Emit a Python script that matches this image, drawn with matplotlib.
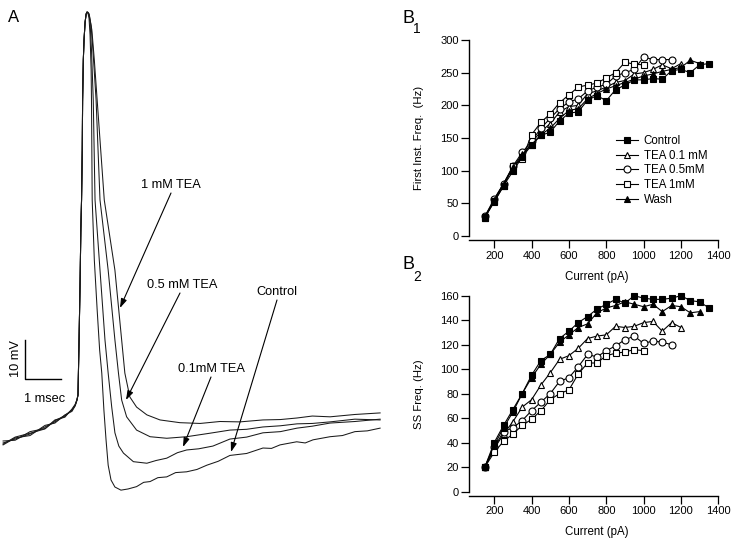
import matplotlib
matplotlib.use('Agg')
import matplotlib.pyplot as plt
from matplotlib.lines import Line2D

plt.rcParams['font.family'] = ['Liberation Sans', 'DejaVu Sans']

# ---------------- Panel A : action potential traces (time in ms, V in mV) ----------
pre_t = [-2.11, -1.77, -1.35, -0.93, -0.65, -0.37, -0.17, -0.08, -0.03, 0.00,
         0.03, 0.06, 0.08, 0.10, 0.12, 0.13, 0.15, 0.17, 0.20, 0.23]
pre_v_control = [-70.5, -69.5, -68.2, -66.4, -65.1, -63.6, -62.1, -60.8, -59.5, -58.2,
                 -44.1, -28.7, -15.9, -8.2, 4.6, 17.4, 27.7, 32.8, 37.4, 39.5]
pre_v_tea01 = [-70.0, -69.8, -67.6, -66.8, -64.6, -63.9, -61.8, -60.6, -59.4, -58.2,
               -44.1, -28.7, -15.9, -8.2, 4.6, 17.4, 27.7, 32.8, 37.4, 39.5]
pre_v_tea05 = [-71.0, -69.2, -68.6, -66.0, -65.4, -63.3, -62.4, -61.0, -59.6, -58.2,
               -44.1, -28.7, -15.9, -8.2, 4.6, 17.4, 27.7, 32.8, 37.4, 39.5]
pre_v_tea1 = [-70.8, -69.0, -68.0, -66.9, -64.8, -63.5, -62.0, -60.9, -59.5, -58.2,
              -44.1, -28.7, -15.9, -8.2, 4.6, 17.4, 27.7, 32.8, 37.4, 39.5]

control_t = [0.25, 0.28, 0.31, 0.34, 0.37, 0.38, 0.40, 0.46, 0.54, 0.61, 0.67, 0.73,
             0.79, 0.85, 0.93, 1.04, 1.21, 1.41, 1.65, 1.85, 2.03, 2.25, 2.50, 2.75, 3.06,
             3.35, 3.63, 3.95, 4.28, 4.75, 5.21, 5.45, 5.69, 6.16, 6.40, 6.62, 7.10,
             7.45, 7.80, 8.15, 8.51]
control_v = [40.0, 39.7, 38.5, 34.1, 25.1, 17.4, -8.2, -23.6, -36.4, -46.7, -52.6, -62.1,
             -69.7, -76.2, -80.0, -81.8, -82.6, -82.3, -81.7, -80.6, -80.4, -79.4, -79.2,
             -78.1, -77.9, -77.3, -76.2, -75.2, -73.7, -73.2, -71.8, -71.9, -71.0, -70.2,
             -70.5, -69.7, -68.9, -68.6, -67.6, -67.4, -66.7]

tea01_t = [0.25, 0.30, 0.34, 0.38, 0.43, 0.48, 0.62, 0.76, 0.85, 0.95, 1.04, 1.15,
           1.28, 1.56, 1.94, 2.20, 2.50, 2.80, 3.06, 3.40, 3.80, 4.28, 4.75, 5.21,
           5.70, 6.17, 6.60, 7.10, 7.80, 8.51]
tea01_v = [40.0, 39.7, 37.4, 30.3, 17.4, -8.2, -26.2, -44.1, -52.6, -61.3, -67.9, -71.3,
           -73.1, -75.3, -75.7, -75.0, -74.4, -73.0, -72.3, -72.0, -71.3, -69.5, -69.0,
           -67.9, -67.6, -66.7, -66.2, -65.4, -65.0, -64.4]

tea05_t = [0.27, 0.31, 0.37, 0.42, 0.51, 0.62, 0.85, 1.04, 1.14, 1.23, 1.37, 1.65,
           2.03, 2.50, 3.06, 3.72, 4.28, 4.75, 5.21, 5.70, 6.17, 6.60, 7.10, 7.80, 8.51]
tea05_v = [40.0, 39.5, 36.4, 30.3, 17.4, -8.2, -26.2, -44.1, -52.6, -59.5, -63.8, -67.2,
           -68.9, -69.3, -68.9, -68.0, -67.2, -67.0, -66.4, -66.1, -65.6, -65.5, -65.1,
           -64.4, -64.6]

tea1_t = [0.27, 0.32, 0.39, 0.46, 0.54, 0.74, 1.04, 1.23, 1.32, 1.46, 1.65, 1.94,
          2.31, 2.87, 3.44, 4.00, 4.56, 5.21, 5.70, 6.17, 6.60, 7.10, 7.80, 8.51]
tea1_v = [40.0, 39.2, 35.4, 27.7, 17.4, -8.2, -26.2, -44.1, -52.6, -58.7, -61.3, -63.3,
          -64.6, -65.3, -65.5, -65.0, -65.1, -64.6, -64.5, -64.1, -63.6, -63.8, -63.2, -62.8]

scalebar_origin = (-1.49, -54.0)
scalebar_ms = 1.0
scalebar_mv = 10.0

# ---------------- Panel B : f-I curves ----------------
current = [150, 200, 250, 300, 350, 400, 450, 500, 550, 600, 650, 700, 750,
           800, 850, 900, 950, 1000, 1050, 1100, 1150, 1200, 1250, 1300, 1350]
series_names = ['Control', 'TEA 0.1 mM', 'TEA 0.5mM', 'TEA 1mM', 'Wash']

b1_control = [29, 52, 77, 99, 121, 139, 154, 159, 176, 188, 190, 208, 215, 207, 224, 231,
              239, 239, 241, 240, 253, 255, 250, 262, 264]
b1_tea01 = [28, 55, 80, 104, 122, 143, 160, 172, 190, 198, 200, 218, 222, 228, 235, 238,
            248, 250, 255, 262, 256, 264]
b1_tea05 = [30, 57, 80, 107, 128, 145, 165, 180, 195, 205, 210, 222, 228, 232, 245, 250,
            255, 274, 270, 270, 270]
b1_tea1 = [28, 53, 76, 107, 118, 155, 174, 187, 204, 216, 228, 231, 234, 242, 250, 266,
           263, 262]
b1_wash = [30, 55, 80, 105, 125, 140, 155, 165, 180, 192, 195, 210, 218, 225, 230, 235,
           240, 245, 248, 252, 255, 258, 269, 264]

b2_control = [20, 40, 54, 67, 80, 95, 107, 112, 125, 131, 138, 143, 149, 153, 157, 154,
              160, 158, 157, 157, 158, 160, 156, 155, 150]
b2_tea01 = [20, 35, 47, 57, 69, 75, 87, 97, 108, 111, 117, 125, 127, 128, 135, 134,
            135, 138, 139, 131, 138, 134]
b2_tea05 = [20, 36, 49, 52, 58, 66, 73, 80, 90, 93, 102, 112, 110, 115, 119, 124,
            127, 121, 123, 122, 120]
b2_tea1 = [20, 32, 41, 47, 54, 59, 66, 75, 80, 83, 96, 105, 105, 111, 113, 114,
           116, 115]
b2_wash = [20, 38, 52, 65, 80, 93, 104, 112, 122, 128, 134, 137, 146, 150, 152, 155,
           153, 151, 153, 147, 152, 151, 146, 147]

# ---------------- figure ----------------
W, H = 749, 541
fig = plt.figure(figsize=(W / 100, H / 100), dpi=100)


def fx(x):
    return x / W


def fy(y):
    return 1 - y / H


# Panel A
axA = fig.add_axes([0, 0, 392 / W, 1])
axA.set_xlim(-2.197, (392 - 78) / 35.5)
axA.set_ylim((168 - 541) / 3.9, 168 / 3.9)
axA.axis('off')
tr_kw = dict(color='#1a1a1a', lw=0.75)
for pv, tt, vv in [(pre_v_control, control_t, control_v), (pre_v_tea01, tea01_t, tea01_v),
                   (pre_v_tea05, tea05_t, tea05_v), (pre_v_tea1, tea1_t, tea1_v)]:
    axA.plot(pre_t + tt, pv + vv, **tr_kw)
t0, v0 = scalebar_origin
axA.plot([t0, t0, t0 + scalebar_ms], [v0 + scalebar_mv, v0, v0], color='black', lw=1.0)

fig.text(fx(8), fy(22), 'A', fontsize=12, ha='left', va='baseline')
lab_kw = dict(fontsize=9.2, ha='center', va='center')
fig.text(fx(171), fy(185), '1 mM TEA', **lab_kw)
fig.text(fx(182), fy(285), '0.5 mM TEA', **lab_kw)
fig.text(fx(277), fy(292), 'Control', **lab_kw)
fig.text(fx(211), fy(369), '0.1mM TEA', **lab_kw)
fig.text(fx(16), fy(359), '10 mV', fontsize=9.2, rotation=90, ha='center', va='center')
fig.text(fx(45), fy(399), '1 msec', **lab_kw)

arrows = [((171, 193), (120, 308)), ((180, 293), (126, 400)),
          ((211, 377), (183, 447)), ((277, 300), (231, 452))]
for (sx, sy), (ex, ey) in arrows:
    fig.add_artist(matplotlib.patches.FancyArrowPatch(
        (fx(sx), fy(sy)), (fx(ex), fy(ey)), transform=fig.transFigure,
        arrowstyle='-|>,head_length=0.55,head_width=0.18', mutation_scale=10,
        color='black', lw=0.8, shrinkA=0, shrinkB=0))

# Panel B styling
styles = [
    dict(marker='s', mfc='black', mec='black', zorder=4),
    dict(marker='^', mfc='white', mec='black', zorder=3),
    dict(marker='o', mfc='white', mec='black', zorder=3),
    dict(marker='s', mfc='white', mec='black', zorder=3),
    dict(marker='^', mfc='black', mec='black', zorder=3.5),
]
common = dict(color='black', lw=0.8, ms=5.0, mew=0.8, clip_on=False)


def style_axis(ax, ymax, ystep):
    ax.set_xlim(65, 1400)
    ax.set_ylim(0, ymax)
    for s in ['top', 'right']:
        ax.spines[s].set_visible(False)
    ax.spines['left'].set_bounds(0, ymax)
    ax.spines['bottom'].set_position(('outward', 3))
    ax.spines['left'].set_linewidth(1.0)
    ax.spines['bottom'].set_linewidth(1.0)
    ax.set_xticks([200, 400, 600, 800, 1000, 1200, 1400])
    ax.set_yticks(list(range(0, ymax + 1, ystep)))
    ax.tick_params(direction='out', length=5.5, width=0.9, labelsize=8, pad=2)
    ax.patch.set_visible(False)


axB1 = fig.add_axes([fx(469), fy(236), (718.3 - 469) / W, (236 - 40) / H])
axB2 = fig.add_axes([fx(469), fy(491.5), (718.3 - 469) / W, (491.5 - 295.7) / H])

for ax, data in [(axB1, [b1_control, b1_tea01, b1_tea05, b1_tea1, b1_wash]),
                 (axB2, [b2_control, b2_tea01, b2_tea05, b2_tea1, b2_wash])]:
    for name, vals, st in zip(series_names, data, styles):
        ax.plot(current[:len(vals)], vals, label=name, **common, **st)

style_axis(axB1, 300, 50)
style_axis(axB2, 160, 20)

handles = [Line2D([], [], color='black', lw=0.8, ms=5.0, mew=0.8,
                  **{k: v for k, v in st.items() if k != 'zorder'}) for st in styles]
axB1.legend(handles, series_names, loc='upper left', bbox_to_anchor=(fx(616), fy(135)),
            bbox_transform=fig.transFigure, frameon=False, fontsize=8.3,
            handlelength=1.9, handletextpad=0.5, labelspacing=0.23,
            borderpad=0, borderaxespad=0)

fig.text(fx(419), fy(138), 'First Inst. Freq.  (Hz)', fontsize=8.2, rotation=90,
         ha='center', va='center')
fig.text(fx(419), fy(394), 'SS Freq. (Hz)', fontsize=8.2, rotation=90,
         ha='center', va='center')
fig.text(fx(597), fy(277), 'Current (pA)', fontsize=8.3, ha='center', va='center')
fig.text(fx(597), fy(532), 'Current (pA)', fontsize=8.3, ha='center', va='center')

fig.text(fx(402), fy(23), 'B', fontsize=13, ha='left', va='baseline')
fig.text(fx(413), fy(33), '1', fontsize=10, ha='left', va='baseline')
fig.text(fx(402), fy(269), 'B', fontsize=13, ha='left', va='baseline')
fig.text(fx(413), fy(281), '2', fontsize=10, ha='left', va='baseline')

fig.savefig('out.png', dpi=100)
